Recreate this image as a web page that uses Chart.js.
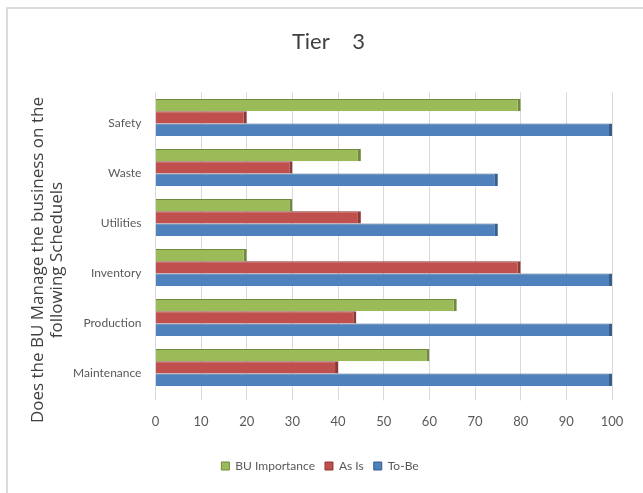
<!DOCTYPE html>
<html>
<head>
<meta charset="utf-8">
<script src="https://cdn.jsdelivr.net/npm/chart.js@4"></script>
<style>
  body { margin: 0; background: #fff; overflow: hidden; }
  #frame { position: absolute; left: 6px; top: 7px; width: 700px; height: 600px;
           border-top: 2px solid #dcdcdc; border-left: 2px solid #dcdcdc; }
  #wrap { position: absolute; left: 0; top: 0; width: 643px; height: 493px; }
</style>
</head>
<body>
<div id="frame"></div>
<div id="wrap"><canvas id="tierChart"></canvas></div>
<script>
const categories = ['Safety', 'Waste', 'Utilities', 'Inventory', 'Production', 'Maintenance'];
const buImportance = [80, 45, 30, 20, 66, 60];
const asIs = [20, 30, 45, 80, 44, 40];
const toBe = [100, 75, 75, 100, 100, 100];
const xTicks = [0, 10, 20, 30, 40, 50, 60, 70, 80, 90, 100];

const narrow = "Lato, 'Liberation Sans', sans-serif";
const edge = { top: 1, right: 3, bottom: 0, left: 0 };
// trailing spaces nudge the rotated axis title a little lower, like the original
const pad = '        ';

new Chart(document.getElementById('tierChart'), {
    type: 'bar',
    data: {
        labels: categories,
        datasets: [{
            label: 'BU Importance',
            data: buImportance,
            backgroundColor: '#9BBB59',
            borderColor: '#71893F',
            borderWidth: edge,
            borderSkipped: false
        }, {
            label: 'As Is',
            data: asIs,
            backgroundColor: '#C0504D',
            borderColor: '#8C3836',
            borderWidth: edge,
            borderSkipped: false
        }, {
            label: 'To-Be',
            data: toBe,
            backgroundColor: '#4F81BD',
            borderColor: '#385D8A',
            borderWidth: edge,
            borderSkipped: false
        }]
    },
    options: {
        indexAxis: 'y',
        responsive: true,
        maintainAspectRatio: false,
        animation: false,
        layout: { padding: { left: 28, right: 31, top: 18, bottom: 11 } },
        datasets: { bar: { barPercentage: 1, categoryPercentage: 0.74 } },
        scales: {
            x: {
                min: 0,
                max: 100,
                afterBuildTicks: (axis) => { axis.ticks = xTicks.map(v => ({ value: v })); },
                grid: { color: '#d9d9d9', tickLength: 8, tickColor: '#d9d9d9' },
                border: { display: false },
                ticks: { color: '#595959', font: { family: narrow, size: 13 }, padding: 14 }
            },
            y: {
                grid: { display: false },
                border: { display: false },
                ticks: { color: '#595959', font: { family: narrow, size: 12 }, padding: 6, labelOffset: 6 },
                title: {
                    display: true,
                    text: ['Does the BU Manage the business on the' + pad, 'following Scheduels' + pad],
                    color: '#404040',
                    font: { family: "'Open Sans', sans-serif", size: 17, lineHeight: 1.15 },
                    padding: { top: 0, bottom: 0 }
                }
            }
        },
        plugins: {
            title: {
                display: true,
                text: '   Tier    3',
                color: '#404040',
                font: { family: narrow, size: 22, weight: 'normal' },
                padding: { top: 11, bottom: 37 }
            },
            legend: {
                position: 'bottom',
                title: { display: true, text: ' ', padding: 0, font: { size: 5 } },
                labels: {
                    boxWidth: 8,
                    boxHeight: 8,
                    padding: 10,
                    color: '#595959',
                    font: { family: narrow, size: 12 }
                }
            },
            tooltip: { enabled: false }
        }
    }
});
</script>
</body>
</html>
